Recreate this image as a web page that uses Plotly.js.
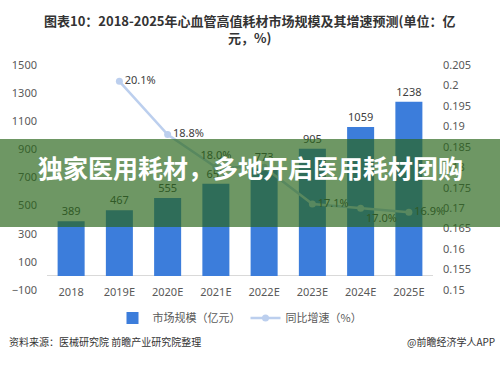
<!DOCTYPE html>
<html>
<head>
<meta charset="utf-8">
<script src="https://cdn.plot.ly/plotly-3.0.1.min.js"></script>
<style>html,body{margin:0;padding:0;background:#fff;}#chart{width:500px;height:366px;}</style>
</head>
<body>
<div id="chart"></div>
<script>
const categories = ['2018','2019E','2020E','2021E','2022E','2023E','2024E','2025E'];
const marketSize = [389, 467, 555, 655, 773, 905, 1059, 1238];
const growthRate = [null, 0.201, 0.188, 0.180, 0.180, 0.171, 0.170, 0.169];
const growthLabels = ['', '20.1%', '18.8%', '18.0%', '', '17.1%', '17.0%', '16.9%'];
const growthLabelPos = ['middle right','middle right','middle right','top center','top right','middle right','bottom right','middle right'];
const seriesNames = ['市场规模（亿元）', '同比增速（%）'];
const titleText = '图表10：2018-2025年心血管高值耗材市场规模及其增速预测(单位：亿<br>元，%)';
const bannerText = '独家医用耗材，多地开启医用耗材团购';
const sourceText = '资料来源：医械研究院 前瞻产业研究院整理';
const creditText = '@前瞻经济学人APP';

const FONT = "'Noto Sans', 'Noto Sans CJK SC', sans-serif";
const CJK = "'Noto Sans CJK SC', sans-serif";

const traces = [
  {
    type: 'bar', name: seriesNames[0], x: categories, y: marketSize,
    marker: {color: '#3c7ddb'}, width: 0.56,
    text: marketSize.map(String), textposition: 'outside', cliponaxis: false,
    textfont: {size: 11, color: '#404040', family: FONT},
    yaxis: 'y', hoverinfo: 'skip'
  },
  {
    type: 'scatter', mode: 'lines+markers+text', name: seriesNames[1],
    x: categories, y: growthRate, yaxis: 'y2',
    line: {color: '#bccfee', width: 2.5},
    marker: {color: '#bccfee', size: 7},
    text: growthLabels, textposition: growthLabelPos, cliponaxis: false,
    textfont: {size: 11, color: '#404040', family: FONT},
    hoverinfo: 'skip'
  }
];

const layout = {
  width: 500, height: 366,
  margin: {l: 47, r: 67, t: 65, b: 76},
  paper_bgcolor: '#ffffff', plot_bgcolor: '#ffffff',
  font: {family: FONT, color: '#595959', size: 11},
  showlegend: true,
  bargap: 0.44,
  xaxis: {
    type: 'category', showgrid: false, showline: false, zeroline: false,
    ticks: '', tickfont: {size: 11, color: '#595959'}, ticklabelstandoff: -6
  },
  yaxis: {
    range: [-100, 1500], tick0: -100, dtick: 200, showgrid: false,
    zeroline: true, zerolinecolor: '#d9d9d9', zerolinewidth: 1,
    showline: false, ticks: '', ticklabelstandoff: 9,
    tickfont: {size: 11, color: '#595959'}
  },
  yaxis2: {
    overlaying: 'y', side: 'right', range: [0.15, 0.205], tick0: 0.15, dtick: 0.005,
    showgrid: false, zeroline: false, showline: false, ticks: '', ticklabelstandoff: 9,
    tickfont: {size: 11, color: '#595959'}
  },
  legend: {
    orientation: 'h', x: 0.5, xanchor: 'center', y: -0.124, yanchor: 'middle',
    font: {family: CJK, size: 11, color: '#595959'}, itemwidth: 30
  },
  shapes: [
    {type: 'rect', xref: 'paper', yref: 'paper', x0: -0.13, x1: 1.18, y0: 0.28, y1: 0.671,
     fillcolor: 'rgba(42,102,26,0.68)', line: {width: 0}, layer: 'above'}
  ],
  annotations: [
    {text: titleText, xref: 'paper', yref: 'paper', x: (249-47)/386, y: (290-9)/225,
     xanchor: 'center', yanchor: 'top', showarrow: false, align: 'center',
     font: {family: CJK, size: 13, color: '#333333', weight: 'bold'}},
    {text: bannerText, xref: 'paper', yref: 'paper', x: 0.526, y: 0.547,
     xanchor: 'center', yanchor: 'middle', showarrow: false,
     font: {family: CJK, size: 25, color: '#ffffff', weight: 'bold'}},
    {text: sourceText, xref: 'paper', yref: 'paper', x: (7-47)/386, y: -0.231,
     xanchor: 'left', yanchor: 'middle', showarrow: false,
     font: {family: CJK, size: 10, color: '#333333'}},
    {text: creditText, xref: 'paper', yref: 'paper', x: (497-47)/386, y: -0.231,
     xanchor: 'right', yanchor: 'middle', showarrow: false,
     font: {family: CJK, size: 10, color: '#333333'}}
  ]
};

Plotly.newPlot('chart', traces, layout, {displayModeBar: false, staticPlot: true});
</script>
</body>
</html>
